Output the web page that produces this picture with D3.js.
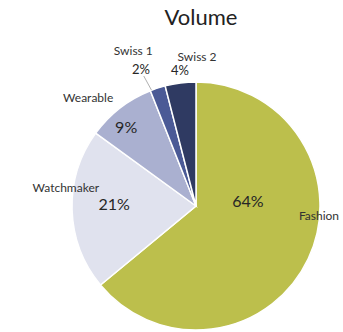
<!DOCTYPE html>
<html>
<head>
<meta charset="utf-8">
<script src="https://cdn.jsdelivr.net/npm/d3@7"></script>
<style>
  html, body { margin: 0; padding: 0; background: #ffffff; }
  svg { display: block; font-family: Lato, "Open Sans", sans-serif; }
</style>
</head>
<body>
<svg id="chart" width="343" height="332"></svg>
<script>
// Market share by volume
const categories = ["Fashion", "Watchmaker", "Wearable", "Swiss 1", "Swiss 2"];
const shares = [64, 21, 9, 2, 4];
const pctLabels = ["64%", "21%", "9%", "2%", "4%"];
const colors = ["#bcbf4c", "#e0e2ee", "#aab0d0", "#4b5a96", "#2f3a62"];

// Label placement: polar offsets (degrees relative to slice middle, radius as fraction of R)
const labelLayout = {
  "Fashion":    { pct: [-30.7, 0.42, 16], name: [-20.6, 0.995] },
  "Watchmaker": { pct: [3.2, 0.66, 16],   name: [9.8, 1.06] },
  "Wearable":   { pct: [-3.7, 0.85, 16],  name: [-7.2, 1.23] },
  "Swiss 1":    { pct: [-3.9, 1.19, 13],  name: [-4, 1.35], leader: true },
  "Swiss 2":    { pct: [0.4, 1.10, 13],   name: [7.6, 1.20] }
};

const svg = d3.select("#chart");
const cx = 196, cy = 206, R = 124;

svg.append("text")
  .attr("x", 201).attr("y", 25)
  .attr("text-anchor", "middle")
  .attr("font-size", 22)
  .attr("fill", "#222")
  .text("Volume");

const data = categories.map((c, i) => ({ cat: c, value: shares[i], label: pctLabels[i], color: colors[i] }));

const pie = d3.pie().value(d => d.value).sort(null);
const arcs = pie(data);
const arc = d3.arc().innerRadius(0).outerRadius(R);

const g = svg.append("g").attr("transform", `translate(${cx},${cy})`);

g.selectAll("path.slice")
  .data(arcs)
  .join("path")
  .attr("class", "slice")
  .attr("d", arc)
  .attr("fill", d => d.data.color)
  .attr("stroke", "#ffffff")
  .attr("stroke-width", 1.5);

function polar(angleRad, r) {
  return [Math.sin(angleRad) * r, -Math.cos(angleRad) * r];
}
const deg = Math.PI / 180;

arcs.forEach(a => {
  const mid = (a.startAngle + a.endAngle) / 2;
  const lay = labelLayout[a.data.cat];
  const [px, py] = polar(mid + lay.pct[0] * deg, lay.pct[1] * R);
  const [nx, ny] = polar(mid + lay.name[0] * deg, lay.name[1] * R);

  if (lay.leader) {
    const [sx, sy] = polar(mid + lay.pct[0] * deg, (lay.pct[1] - 0.06) * R);
    const [ex, ey] = polar(a.startAngle + 0.6 * deg, R);
    g.append("line")
      .attr("x1", sx).attr("y1", sy)
      .attr("x2", ex).attr("y2", ey)
      .attr("stroke", "#b0b0b0")
      .attr("stroke-width", 1);
  }

  g.append("text")
    .attr("x", px).attr("y", py)
    .attr("dy", "0.35em")
    .attr("text-anchor", "middle")
    .attr("font-size", lay.pct[2])
    .attr("fill", "#262626")
    .text(a.data.label);

  g.append("text")
    .attr("x", nx).attr("y", ny)
    .attr("dy", "0.35em")
    .attr("text-anchor", "middle")
    .attr("font-size", 12)
    .attr("fill", "#333333")
    .text(a.data.cat);
});
</script>
</body>
</html>
